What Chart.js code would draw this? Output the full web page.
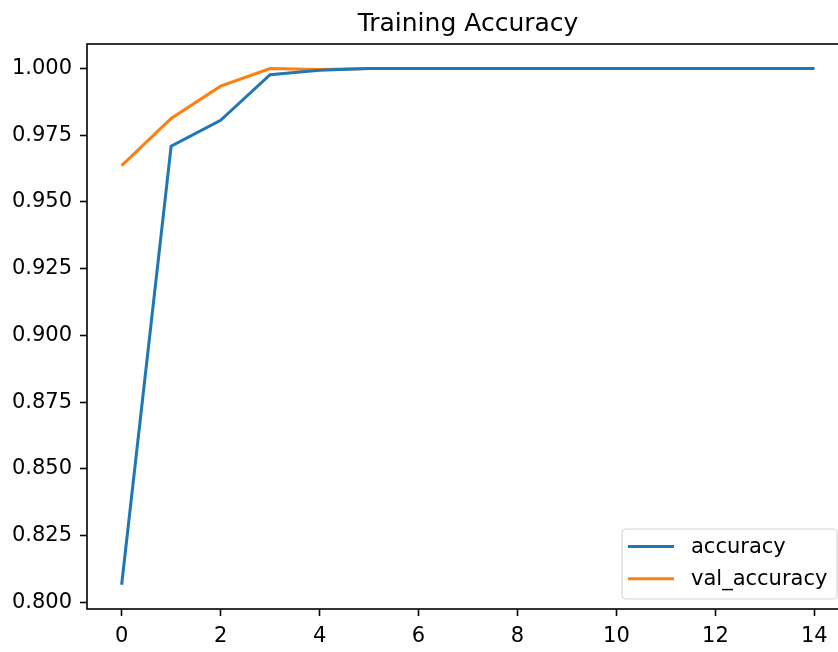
<!DOCTYPE html>
<html>
<head>
<meta charset="utf-8">
<script src="https://cdn.jsdelivr.net/npm/chart.js@4.4.1/dist/chart.umd.min.js"></script>
<style>
  html, body { margin: 0; padding: 0; background: #fff; overflow: hidden; }
  #wrap { width: 850px; height: 652px; }
</style>
</head>
<body>
<div id="wrap"><canvas id="acc" width="850" height="652"></canvas></div>
<script>
// data
const epochs = [0, 1, 2, 3, 4, 5, 6, 7, 8, 9, 10, 11, 12, 13, 14];
const accuracy = [0.8066, 0.9709, 0.9806, 0.9977, 0.9994, 1.0, 1.0, 1.0, 1.0, 1.0, 1.0, 1.0, 1.0, 1.0, 1.0];
const valAccuracy = [0.9636, 0.9813, 0.9934, 1.0, 0.9996, 1.0, 1.0, 1.0, 1.0, 1.0, 1.0, 1.0, 1.0, 1.0, 1.0];
const xTicks = [0, 2, 4, 6, 8, 10, 12, 14];
const yTicks = [0.800, 0.825, 0.850, 0.875, 0.900, 0.925, 0.950, 0.975, 1.000];
const chartTitle = 'Training Accuracy';

const FONT = "'DejaVu Sans', sans-serif";

// title centred over the axes, like matplotlib
const axTitle = {
  id: 'axTitle',
  afterDraw(chart) {
    const a = chart.chartArea, ctx = chart.ctx;
    ctx.save();
    ctx.font = '25px ' + FONT;
    ctx.fillStyle = '#000';
    ctx.textAlign = 'center';
    ctx.textBaseline = 'alphabetic';
    ctx.fillText(chartTitle, (a.left + a.right) / 2, a.top - 13);
    ctx.restore();
  }
};

// box around the axes (matplotlib spines)
const spines = {
  id: 'spines',
  afterDraw(chart) {
    const a = chart.chartArea, ctx = chart.ctx;
    ctx.save();
    ctx.strokeStyle = '#000';
    ctx.lineWidth = 1.6;
    ctx.strokeRect(a.left, a.top, a.right - a.left, a.bottom - a.top);
    ctx.restore();
  }
};

// legend inside the plot, lower right
const boxLegend = {
  id: 'boxLegend',
  afterDraw(chart) {
    const a = chart.chartArea, ctx = chart.ctx;
    const w = 215, h = 70;
    const x = a.right - 12 - w, y = a.bottom - 10 - h;
    ctx.save();
    ctx.beginPath();
    ctx.roundRect(x, y, w, h, 4);
    ctx.fillStyle = 'rgba(255,255,255,0.8)';
    ctx.fill();
    ctx.strokeStyle = '#d6d6d6';
    ctx.lineWidth = 1.2;
    ctx.stroke();
    ctx.font = '21px ' + FONT;
    ctx.textBaseline = 'middle';
    chart.data.datasets.forEach((ds, i) => {
      const ly = y + 17.5 + i * 32.3;
      ctx.strokeStyle = ds.borderColor;
      ctx.lineWidth = 3;
      ctx.beginPath();
      ctx.moveTo(x + 6, ly);
      ctx.lineTo(x + 52, ly);
      ctx.stroke();
      ctx.fillStyle = '#000';
      ctx.fillText(ds.label, x + 69, ly + 1);
    });
    ctx.restore();
  }
};

new Chart(document.getElementById('acc'), {
  type: 'line',
  data: {
    datasets: [
      {
        label: 'accuracy',
        data: epochs.map((e, i) => ({ x: e, y: accuracy[i] })),
        borderColor: '#1f77b4',
        borderWidth: 3,
        pointRadius: 0,
        tension: 0
      },
      {
        label: 'val_accuracy',
        data: epochs.map((e, i) => ({ x: e, y: valAccuracy[i] })),
        borderColor: '#ff7f0e',
        borderWidth: 3,
        pointRadius: 0,
        tension: 0
      }
    ]
  },
  options: {
    responsive: false,
    animation: false,
    layout: { padding: { left: 0, right: 1, top: 44, bottom: 0 } },
    plugins: {
      legend: { display: false },
      tooltip: { enabled: false },
      title: { display: false }
    },
    scales: {
      x: {
        type: 'linear',
        min: -0.7,
        max: 14.7,
        afterBuildTicks: s => { s.ticks = xTicks.map(v => ({ value: v })); },
        afterFit: s => { s.height = 43; },
        grid: { drawOnChartArea: false, drawTicks: true, tickLength: 7, tickWidth: 1.6, tickColor: '#000' },
        border: { display: false },
        ticks: { color: '#000', font: { family: FONT, size: 21 }, padding: 8, maxRotation: 0, callback: v => v }
      },
      y: {
        min: 0.7975,
        max: 1.0092,
        afterBuildTicks: s => { s.ticks = yTicks.map(v => ({ value: v })); },
        afterFit: s => { s.width = 87; },
        grid: { drawOnChartArea: false, drawTicks: true, tickLength: 7, tickWidth: 1.6, tickColor: '#000' },
        border: { display: false },
        ticks: { color: '#000', font: { family: FONT, size: 21 }, padding: 8, callback: v => v.toFixed(3) }
      }
    }
  },
  plugins: [axTitle, spines, boxLegend]
});
</script>
</body>
</html>
